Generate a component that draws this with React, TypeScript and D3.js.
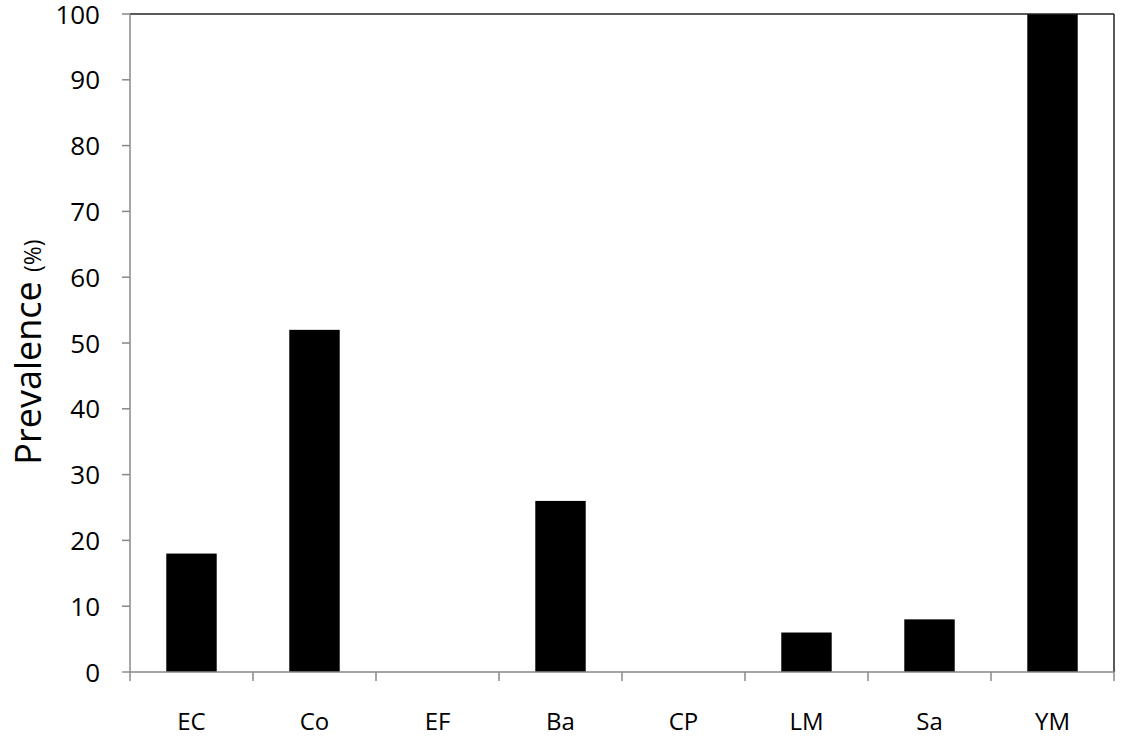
import React from 'react'
import * as d3 from 'd3'

const categories = ['EC', 'Co', 'EF', 'Ba', 'CP', 'LM', 'Sa', 'YM']
const prevalence = [18, 52, 0, 26, 0, 6, 8, 100]
const yTicks = [0, 10, 20, 30, 40, 50, 60, 70, 80, 90, 100]

const W = 1122
const H = 739
const margin = { top: 14, right: 8, bottom: 67, left: 130 }
const font = "'Open Sans', sans-serif"

export default function App() {
    const x = d3.scaleBand().domain(categories).range([margin.left, W - margin.right]).paddingInner(0.59).paddingOuter(0.295)
    const bands = d3.scaleBand().domain(categories).range([margin.left, W - margin.right])
    const y = d3.scaleLinear().domain([0, 100]).range([H - margin.bottom, margin.top])
    const x0 = margin.left
    const x1 = W - margin.right
    const y0 = y(0)
    const yTop = y(100)

    return (
        <svg width={W} height={H} style={{ position: 'absolute', left: 0, top: 0 }}>
            <rect width={W} height={H} fill="#fff" />
            {categories.map((c, i) =>
                <rect key={c} x={x(c)} width={x.bandwidth()} y={y(prevalence[i])} height={y0 - y(prevalence[i])} fill="#000" />
            )}
            {/* frame */}
            <line x1={x0} x2={x1} y1={yTop} y2={yTop} stroke="#222" strokeWidth={1.5} />
            <line x1={x1} x2={x1} y1={yTop} y2={y0} stroke="#222" strokeWidth={1.5} />
            <line x1={x0} x2={x0} y1={yTop} y2={y0} stroke="#888" strokeWidth={1.5} />
            <line x1={x0} x2={x1} y1={y0} y2={y0} stroke="#888" strokeWidth={1.5} />
            {yTicks.map(t =>
                <g key={t}>
                    <line x1={x0 - 8} x2={x0} y1={y(t)} y2={y(t)} stroke="#888" strokeWidth={1.5} />
                    <text x={100} y={y(t)} dy="0.37em" textAnchor="end" fontFamily={font} fontSize={26} fill="#000">{t}</text>
                </g>
            )}
            {categories.map(c =>
                <g key={c}>
                    <line x1={bands(c)} x2={bands(c)} y1={y0} y2={y0 + 9} stroke="#888" strokeWidth={1.5} />
                    <text x={bands(c) + bands.bandwidth() / 2} y={730} textAnchor="middle" fontFamily={font} fontSize={24} fill="#000">{c}</text>
                </g>
            )}
            <line x1={x1} x2={x1} y1={y0} y2={y0 + 9} stroke="#888" strokeWidth={1.5} />
            <text transform={`translate(41, ${352}) rotate(-90)`} textAnchor="middle" fontFamily={font} fill="#000">
                <tspan fontSize={36}>Prevalence </tspan>
                <tspan fontSize={23}>(%)</tspan>
            </text>
        </svg>
    )
}
